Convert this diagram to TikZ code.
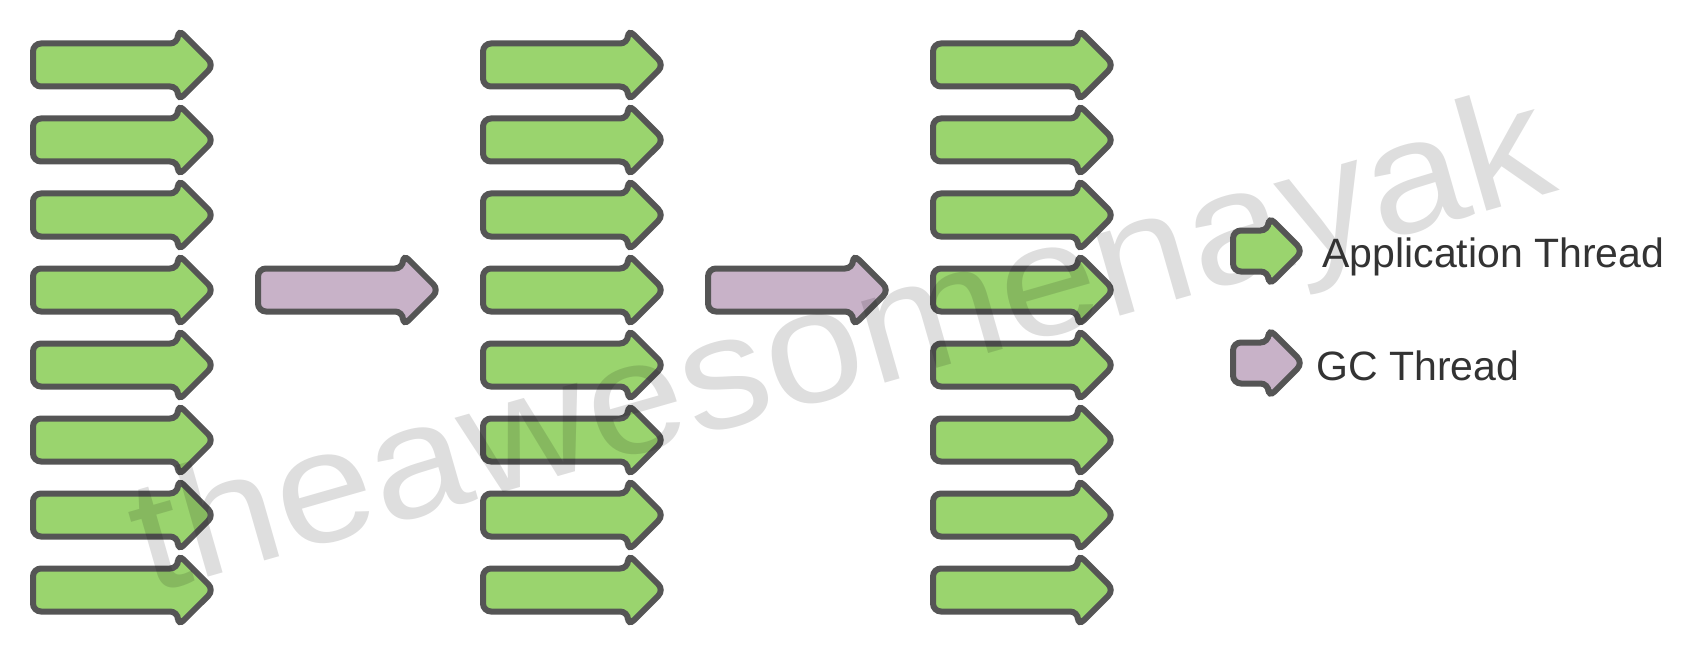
\documentclass[tikz,border=0pt]{standalone}
\usepackage{fontspec}
\setmainfont{Liberation Sans}
\usetikzlibrary{shapes.arrows}
\definecolor{appgreen}{RGB}{154,212,110}
\definecolor{gcpurple}{RGB}{200,178,200}
\definecolor{outline}{RGB}{85,85,85}
\definecolor{labelgray}{RGB}{51,51,51}
\begin{document}
\begin{tikzpicture}[x=1pt, y=-1pt, node distance=75pt,
  thread/.style = {draw=outline, line width=6pt, rounded corners=8pt, single arrow, single arrow tip angle=90, single arrow head extend=14.5pt, minimum height=181pt, inner xsep=0pt, inner ysep=18.5pt},
  app/.style = {thread, fill=appgreen},
  gc/.style = {thread, fill=gcpurple},
  legend/.style = {minimum height=70pt, inner ysep=17.5pt, single arrow head extend=14pt},
  label/.style = {text=labelgray, inner sep=0pt, anchor=base west, font=\fontsize{41}{41}\selectfont}]
\useasboundingbox (0,0) rectangle (1686,647);

% first column
\node[app, anchor=tail] (a1) at (30,65) {};
\node[app] (a2) [below of=a1] {};
\node[app] (a3) [below of=a2] {};
\node[app] (a4) [below of=a3] {};
\node[app] (a5) [below of=a4] {};
\node[app] (a6) [below of=a5] {};
\node[app] (a7) [below of=a6] {};
\node[app] (a8) [below of=a7] {};

% second column
\node[app] (b1) [right of=a1, node distance=450pt] {};
\node[app] (b2) [below of=b1] {};
\node[app] (b3) [below of=b2] {};
\node[app] (b4) [below of=b3] {};
\node[app] (b5) [below of=b4] {};
\node[app] (b6) [below of=b5] {};
\node[app] (b7) [below of=b6] {};
\node[app] (b8) [below of=b7] {};

% third column
\node[app] (c1) [right of=b1, node distance=450pt] {};
\node[app] (c2) [below of=c1] {};
\node[app] (c3) [below of=c2] {};
\node[app] (c4) [below of=c3] {};
\node[app] (c5) [below of=c4] {};
\node[app] (c6) [below of=c5] {};
\node[app] (c7) [below of=c6] {};
\node[app] (c8) [below of=c7] {};

% gc threads
\node[gc] (gc1) [right of=a4, node distance=225pt] {};
\node[gc] (gc2) [right of=b4, node distance=225pt] {};

% watermark
\node[text=black, opacity=0.13, rotate=16, xscale=1.1, anchor=base, inner sep=0pt, font=\fontsize{160}{160}\selectfont] (mark) at (855,392) {theawesomenayak};

% legend
\node[app, legend, anchor=tail] (legapp) at (1230,251) {};
\node[gc, legend] (leggc) [below of=legapp, node distance=112pt] {};
\node[label] (applabel) at ([xshift=15pt, yshift=-16pt]legapp.tip) {Application Thread};
\node[label] (gclabel) at ([xshift=9pt, yshift=-17pt]leggc.tip) {GC Thread};
\end{tikzpicture}
\end{document}
